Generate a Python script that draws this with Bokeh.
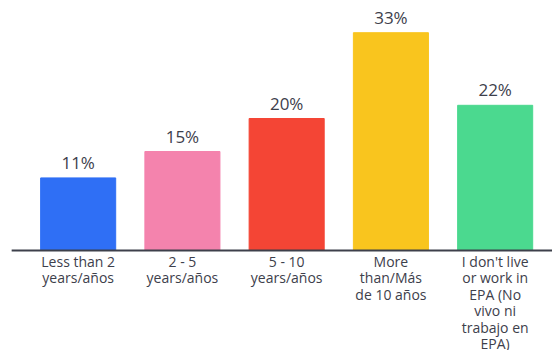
from bokeh.plotting import figure
from bokeh.models import Range1d, ColumnDataSource
from bokeh.core.properties import value
from bokeh.embed import file_html
from bokeh.resources import INLINE

categories = ["Less than 2\nyears/años", "2 - 5\nyears/años", "5 - 10\nyears/años",
              "More\nthan/Más\nde 10 años",
              "I don't live\nor work in\nEPA (No\nvivo ni\ntrabajo en\nEPA)"]
values = [11, 15, 20, 33, 22]
labels = ["11%", "15%", "20%", "33%", "22%"]
colors = ["#2f6ff5", "#f483ad", "#f44535", "#f9c51e", "#4bd98f"]

xs = list(range(len(categories)))
src = ColumnDataSource(dict(x=xs, top=values, cat=categories, lab=labels, color=colors))

p = figure(width=552, height=350, output_backend="svg", toolbar_location=None,
           x_range=Range1d(-0.745, 4.55), y_range=Range1d(-15.15, 37.88),
           min_border=0, min_border_left=0, min_border_right=0,
           min_border_top=0, min_border_bottom=0)
p.xaxis.visible = False
p.yaxis.visible = False
p.xgrid.visible = False
p.ygrid.visible = False
p.outline_line_color = None
p.background_fill_color = "white"

p.vbar(x="x", top="top", bottom=0, width=0.72, color="color", source=src)
p.segment(x0=[-0.638], y0=[0], x1=[4.55], y1=[0], line_color="#3d404b", line_width=2.2)

p.text(x="x", y="top", text="lab", source=src, text_align="center",
       text_baseline="bottom", y_offset=-4, text_font=value("Open Sans"),
       text_font_size="17px", text_color="#3d404b")
p.text(x="x", y=0, text="cat", source=src, text_align="center",
       text_baseline="top", y_offset=1, text_font=value("Open Sans"),
       text_font_size="14px", text_color="#3d404b", text_line_height=0.87)

open("out.html", "w").write(file_html(p, INLINE))
